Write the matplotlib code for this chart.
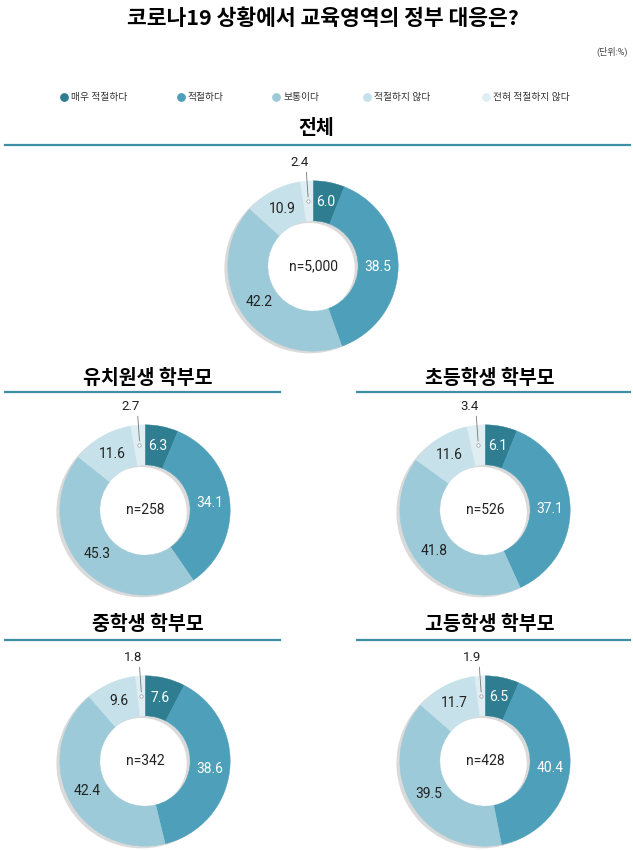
import matplotlib
matplotlib.use("Agg")
import matplotlib.pyplot as plt
from matplotlib.patches import Wedge
import numpy as np

plt.rcParams['font.family'] = ['Roboto', 'Noto Sans CJK KR', 'DejaVu Sans']

# data
categories = ['매우 적절하다', '적절하다', '보통이다', '적절하지 않다', '전혀 적절하지 않다']
colors = ['#2f7d91', '#4d9fba', '#9dcad8', '#c6e1ea', '#deeef3']
groups = ['전체', '유치원생 학부모', '초등학생 학부모', '중학생 학부모', '고등학생 학부모']
sizes = ['n=5,000', 'n=258', 'n=526', 'n=342', 'n=428']
v_all = [6.0, 38.5, 42.2, 10.9, 2.4]
v_kinder = [6.3, 34.1, 45.3, 11.6, 2.7]
v_elem = [6.1, 37.1, 41.8, 11.6, 3.4]
v_middle = [7.6, 38.6, 42.4, 9.6, 1.8]
v_high = [6.5, 40.4, 39.5, 11.7, 1.9]
values = [v_all, v_kinder, v_elem, v_middle, v_high]

W, H = 633, 850
fig = plt.figure(figsize=(W / 100, H / 100), dpi=100)

# overlay axes in pixel coords for text / lines / legend
ov = fig.add_axes([0, 0, 1, 1])
ov.set_xlim(0, W)
ov.set_ylim(H, 0)
ov.axis('off')

ov.text(323, 18, '코로나19 상황에서 교육영역의 정부 대응은?', ha='center', va='center',
        fontsize=15.5, fontweight='bold', family=['Noto Sans CJK KR', 'DejaVu Sans'])
ov.text(628, 52, '(단위:%)', ha='right', va='center', fontsize=6.5, color='#444444')

leg_x = [64, 181, 276, 367, 486]
for x, c, lab in zip(leg_x, colors, categories):
    ov.scatter([x], [97], s=28, color=c, zorder=3)
    ov.text(x + 7, 97, lab, ha='left', va='center', fontsize=7, color='#333333')

# section headers: (text x, text y, line x0, line x1, line y)
headers = [(316, 128, 5, 630, 145),
           (148, 378, 5, 280, 392),
           (490, 378, 357, 630, 392),
           (148, 625, 5, 280, 640),
           (490, 625, 357, 630, 640)]
centers = [(313, 266), (145, 510), (485, 510), (145, 761), (485, 761)]

for (tx, ty, x0, x1, ly), g in zip(headers, groups):
    ov.text(tx, ty, g, ha='center', va='center', fontsize=14, fontweight='bold',
            family=['Noto Sans CJK KR', 'DejaVu Sans'])
    ov.plot([x0, x1], [ly, ly], color='#3e8fa6', lw=1.6)

R_out, R_in = 1.0, 0.53
AX = 230  # axes size in px
span = 1.35
for (cx, cy), vals, n in zip(centers, values, sizes):
    ax = fig.add_axes([(cx - AX / 2) / W, 1 - (cy + AX / 2) / H, AX / W, AX / H])
    ax.set_xlim(-span, span)
    ax.set_ylim(-span, span)
    ax.set_aspect('equal')
    ax.axis('off')
    # shadow ring
    ax.add_patch(Wedge((-0.04, -0.025), R_out, 0, 360, width=R_out - R_in,
                       facecolor='#dadada', edgecolor='none', zorder=1))
    total = sum(vals)
    ang = 90.0
    for i, v in enumerate(vals):
        sweep = v / total * 360
        a0, a1 = ang - sweep, ang
        ax.add_patch(Wedge((0, 0), R_out, a0, a1, width=R_out - R_in,
                           facecolor=colors[i], edgecolor=colors[i], lw=0.3, zorder=2))
        mid = np.deg2rad((a0 + a1) / 2)
        rm = (R_out + R_in) / 2
        if i == 4:
            px, py = rm * np.cos(mid), rm * np.sin(mid)
            ax.plot([px, px - 0.02], [py + 0.05, 1.1], color='#777777', lw=0.6, zorder=3)
            ax.scatter([px], [py], s=6, facecolor='white', edgecolor='#999999', lw=0.5, zorder=4)
            ax.text(px - 0.1, 1.22, f'{v:.1f}', ha='center', va='center', fontsize=9.5, color='#222222')
        else:
            tc = 'white' if i < 2 else '#222222'
            ax.text(rm * np.cos(mid), rm * np.sin(mid), f'{v:.1f}', ha='center', va='center',
                    fontsize=10, color=tc, zorder=4)
        ang = a0
    ax.text(0, 0, n, ha='center', va='center', fontsize=10, color='#222222')

fig.savefig('out.png', dpi=100)
